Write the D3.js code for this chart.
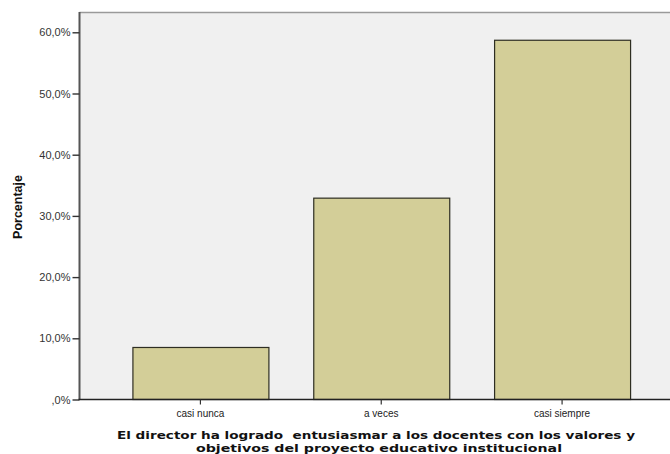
<!DOCTYPE html>
<html>
<head>
<meta charset="utf-8">
<script src="https://cdn.jsdelivr.net/npm/d3@7"></script>
<style>
  html, body { margin: 0; padding: 0; background: #ffffff; }
  svg { display: block; }
  .xtitle { white-space: pre; }
</style>
</head>
<body>
<svg id="chart" width="670" height="454"></svg>
<script>
// Response categories and their percentages
const categories = ["casi nunca", "a veces", "casi siempre"];
const percentages = [8.5, 32.9, 58.7];
const yTicks = [0, 10, 20, 30, 40, 50, 60];
const yTickLabels = [",0%", "10,0%", "20,0%", "30,0%", "40,0%", "50,0%", "60,0%"];
const xTitleLines = [
  "El director ha logrado  entusiasmar a los docentes con los valores y",
  "objetivos del proyecto educativo institucional"
];
const yTitle = "Porcentaje";

const svg = d3.select("#chart");
const W = 670;
const plot = { left: 79.5, top: 12, right: 670, bottom: 399.5 };

const y = d3.scaleLinear()
  .domain([0, 60])
  .range([plot.bottom, 32.3]);

const x = d3.scaleBand()
  .domain(categories)
  .range([110, 652.5])
  .paddingInner(0.248)
  .paddingOuter(0.124);

// plot background
svg.append("rect")
  .attr("x", plot.left).attr("y", plot.top)
  .attr("width", plot.right - plot.left).attr("height", plot.bottom - plot.top)
  .attr("fill", "#f0f0f0");

// top frame line
svg.append("line")
  .attr("x1", plot.left).attr("x2", W)
  .attr("y1", plot.top + 0.5).attr("y2", plot.top + 0.5)
  .attr("stroke", "#9a9a9a").attr("stroke-width", 1.5);

// bars
svg.append("g").selectAll("rect")
  .data(categories)
  .join("rect")
  .attr("x", d => x(d) + 0.5)
  .attr("y", (d, i) => y(percentages[i]))
  .attr("width", x.bandwidth())
  .attr("height", (d, i) => plot.bottom - y(percentages[i]))
  .attr("fill", "#d3ce98")
  .attr("stroke", "#2e2e22")
  .attr("stroke-width", 1.2);

// y axis
const yAxis = d3.axisLeft(y)
  .tickValues(yTicks)
  .tickSize(7)
  .tickPadding(2)
  .tickFormat((d, i) => yTickLabels[i]);

const gy = svg.append("g")
  .attr("transform", `translate(${plot.left},0)`)
  .call(yAxis);
gy.select(".domain")
  .attr("d", `M0,${plot.top}V${plot.bottom}`)
  .attr("stroke", "#555").attr("stroke-width", 2);
gy.selectAll(".tick line").attr("stroke", "#333").attr("stroke-width", 1.4);
gy.selectAll(".tick text")
  .attr("font-family", "Liberation Sans, Arial, sans-serif")
  .attr("font-size", "11px")
  .attr("fill", "#333");

// x axis
const xAxis = d3.axisBottom(x)
  .tickSize(5)
  .tickPadding(5);
const gx = svg.append("g")
  .attr("transform", `translate(0,${plot.bottom})`)
  .call(xAxis);
gx.select(".domain")
  .attr("d", `M${plot.left - 1},0H${W}`)
  .attr("stroke", "#222").attr("stroke-width", 1.6);
gx.selectAll(".tick line").attr("stroke", "#333").attr("stroke-width", 1.2);
gx.selectAll(".tick text")
  .attr("font-family", "Liberation Sans, Arial, sans-serif")
  .attr("font-size", "10px")
  .attr("fill", "#222");

// x axis title, two tightly stacked lines
const titleLayout = [
  { cx: 376, base: 438.5, len: 518 },
  { cx: 379, base: 451.5, len: 366 }
];
svg.append("g").selectAll("text")
  .data(xTitleLines)
  .join("text")
  .attr("class", "xtitle")
  .attr("x", (d, i) => titleLayout[i].cx)
  .attr("y", (d, i) => titleLayout[i].base)
  .attr("text-anchor", "middle")
  .attr("font-family", "DejaVu Sans, Verdana, sans-serif")
  .attr("font-weight", "bold")
  .attr("font-size", "11px")
  .attr("textLength", (d, i) => titleLayout[i].len)
  .attr("lengthAdjust", "spacingAndGlyphs")
  .attr("fill", "#111")
  .text(d => d);

// y axis title
svg.append("text")
  .attr("transform", "translate(22,207) rotate(-90)")
  .attr("text-anchor", "middle")
  .attr("font-family", "Liberation Sans, Arial, sans-serif")
  .attr("font-weight", "bold")
  .attr("font-size", "12.5px")
  .attr("fill", "#111")
  .text(yTitle);
</script>
</body>
</html>
